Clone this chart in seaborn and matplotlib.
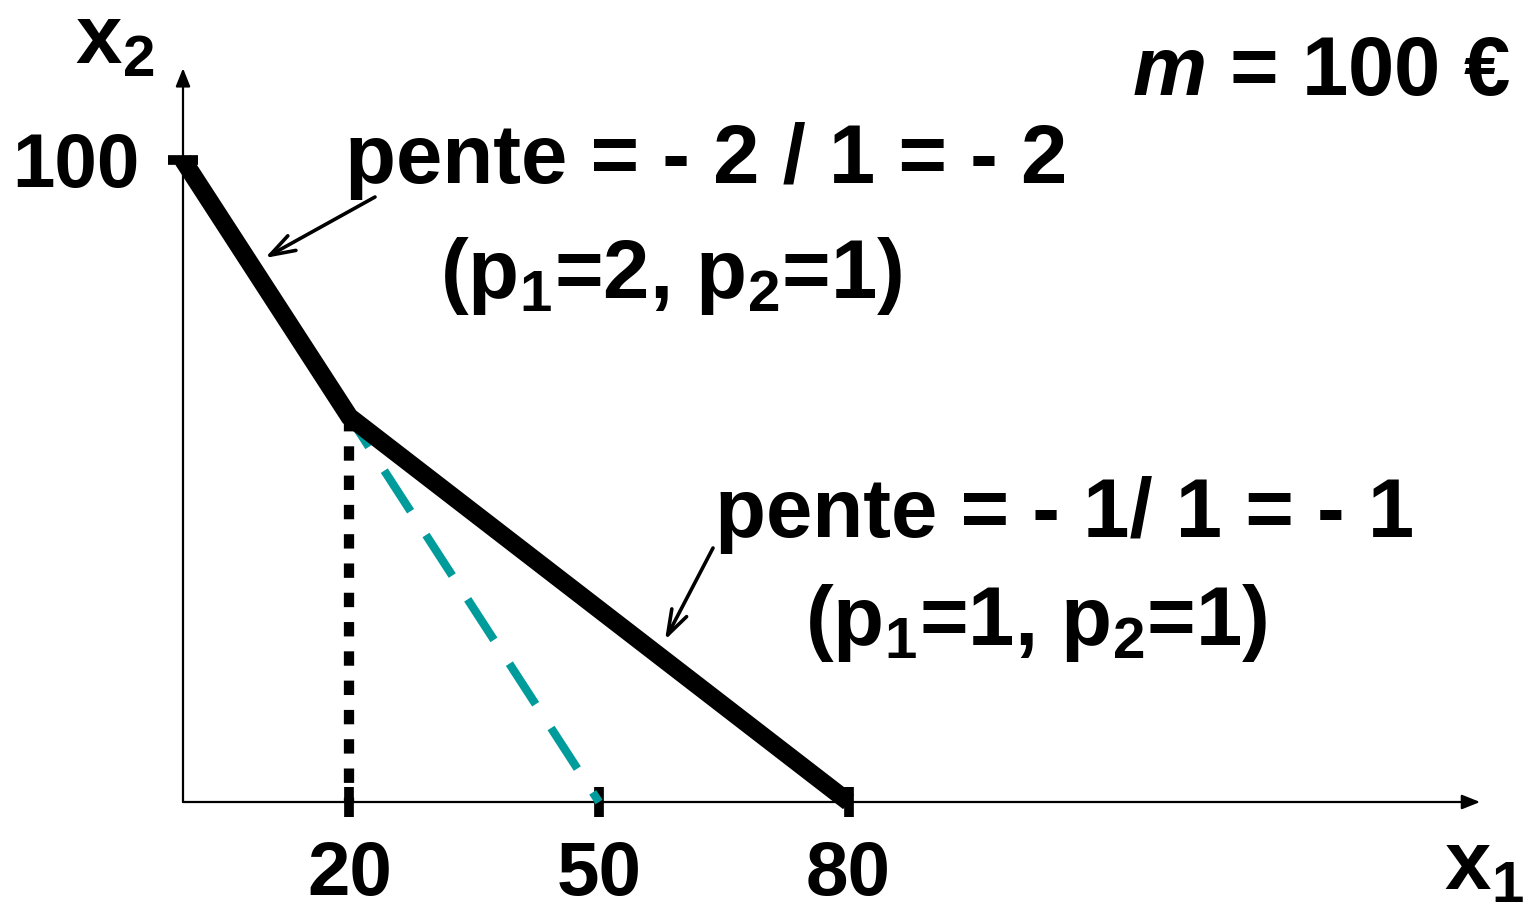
import matplotlib
matplotlib.use("Agg")
import matplotlib.pyplot as plt
import pandas as pd
import seaborn as sns

# budget line with a kink: p1 = 2 for the first 20 units, then p1 = 1
budget_x = [0, 20, 80]
budget_y = [100, 60, 0]
# old budget line (p1 = 2 everywhere), dashed
old_x = [20, 50]
old_y = [60, 0]
# dotted guide at the kink
kink_x = [20, 20]
kink_y = [60, 0]

x_ticks = [20, 50, 80]
y_ticks = [100]

TEAL = "#009b9b"
W, H = 1523, 910


def fig_pos(px, py):
    # pixel from top-left -> figure fraction
    return px / W, 1 - py / H


def plot():
    sns.set_style("white")
    plt.rcParams["font.family"] = ["Liberation Sans", "DejaVu Sans"]
    plt.rcParams["font.weight"] = "bold"
    plt.rcParams["text.color"] = "black"
    plt.rcParams["xtick.color"] = "black"
    plt.rcParams["ytick.color"] = "black"
    plt.rcParams["mathtext.fontset"] = "custom"
    plt.rcParams["mathtext.rm"] = "Liberation Sans:weight=bold"
    plt.rcParams["mathtext.bf"] = "Liberation Sans:weight=bold"
    plt.rcParams["mathtext.it"] = "Liberation Sans:weight=bold:slant=italic"
    plt.rcParams["mathtext.default"] = "rm"

    fig = plt.figure(figsize=(15.23, 9.10), dpi=100)
    ax = fig.add_axes([0, 0, 1, 1])

    sx, sy = 8.32, 6.42
    ax.set_xlim(-183 / sx, (W - 183) / sx)
    ax.set_ylim(-108 / sy, (H - 108) / sy)

    dotted = pd.DataFrame({"x": kink_x, "y": kink_y})
    sns.lineplot(data=dotted, x="x", y="y", estimator=None, sort=False,
                 color="black", lw=7.4, ax=ax, zorder=2,
                 linestyle=(0, (1.4, 1.45)), dash_capstyle="butt")

    old = pd.DataFrame({"x": old_x, "y": old_y})
    sns.lineplot(data=old, x="x", y="y", estimator=None, sort=False,
                 color=TEAL, lw=6, ax=ax, zorder=3,
                 linestyle=(1.5, (5.8, 3.4)), dash_capstyle="butt")

    budget = pd.DataFrame({"x": budget_x, "y": budget_y})
    sns.lineplot(data=budget, x="x", y="y", estimator=None, sort=False,
                 color="black", lw=13, ax=ax, zorder=4,
                 solid_joinstyle="miter", solid_capstyle="butt")

    # axes drawn as arrows through the origin
    for s in ax.spines.values():
        s.set_visible(False)
    ax.spines["bottom"].set_position(("data", 0))
    ax.spines["left"].set_position(("data", 0))
    arrow_kw = dict(arrowstyle="-|>,head_length=0.55,head_width=0.22",
                    lw=1.6, color="black", mutation_scale=20,
                    shrinkA=0, shrinkB=0)
    ax.annotate("", xy=(155.9, 0), xytext=(0, 0), arrowprops=arrow_kw, zorder=1)
    ax.annotate("", xy=(0, 114.3), xytext=(0, 0), arrowprops=arrow_kw, zorder=1)

    ax.set_xticks(x_ticks)
    ax.set_xticklabels([str(v) for v in x_ticks])
    ax.set_yticks(y_ticks)
    ax.set_yticklabels([str(v) for v in y_ticks])
    ax.tick_params(axis="both", direction="inout", length=22, width=7,
                   color="black", labelcolor="black", labelsize=55,
                   bottom=True, left=True, zorder=5)
    ax.tick_params(axis="x", pad=16)
    ax.tick_params(axis="y", pad=20)
    ax.set_xlabel("")
    ax.set_ylabel("")
    ax.grid(False)

    big = 60
    fig.text(*fig_pos(75, 64), "x$_2$", fontsize=big, ha="left", va="baseline")
    fig.text(*fig_pos(1444, 890), "x$_1$", fontsize=big, ha="left", va="baseline")
    fig.text(*fig_pos(1510, 95), r"$\mathit{m}$ = 100 €", fontsize=big,
             ha="right", va="baseline")
    fig.text(*fig_pos(345, 183), "pente = - 2 / 1 = - 2", fontsize=big,
             ha="left", va="baseline")
    fig.text(*fig_pos(440, 298), "(p$_1$=2, p$_2$=1)", fontsize=big,
             ha="left", va="baseline")
    fig.text(*fig_pos(715, 537), "pente = - 1/ 1 = - 1", fontsize=big,
             ha="left", va="baseline")
    fig.text(*fig_pos(805, 645), "(p$_1$=1, p$_2$=1)", fontsize=big,
             ha="left", va="baseline")

    pointer = dict(arrowstyle="->,head_length=0.9,head_width=0.3", lw=2.6,
                   color="black", mutation_scale=20, shrinkA=0, shrinkB=0)
    ax.annotate("", xy=fig_pos(265, 258), xytext=fig_pos(375, 197),
                xycoords="figure fraction", textcoords="figure fraction",
                arrowprops=pointer)
    ax.annotate("", xy=fig_pos(665, 640), xytext=fig_pos(713, 548),
                xycoords="figure fraction", textcoords="figure fraction",
                arrowprops=pointer)

    fig.savefig("out.png", dpi=100)


if __name__ == '__main__':
    plot()
